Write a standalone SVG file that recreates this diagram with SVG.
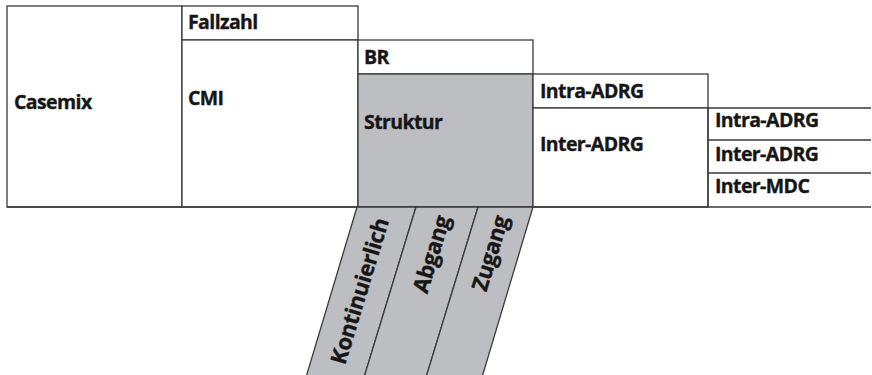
<svg xmlns="http://www.w3.org/2000/svg" width="872" height="375" viewBox="0 0 872 375">
  <style>
    .box { fill: #ffffff; stroke: #3a3a3a; stroke-width: 1.3; }
    .grey { fill: #bdbec1; stroke: #3a3a3a; stroke-width: 1.3; }
    .edge { fill: none; stroke: #3a3a3a; stroke-width: 1.3; }
    .lbl, .vlbl { font-family: "Open Sans", "Noto Sans", "Liberation Sans", sans-serif; font-weight: 700; fill: #161616; stroke: #161616; stroke-width: 0.35px; }
    .lbl { font-size: 19.5px; letter-spacing: -0.6px; }
    .vlbl { font-size: 22px; letter-spacing: -0.4px; }
  </style>
  <rect width="872" height="375" fill="#ffffff"/>

  <!-- level 1 -->
  <g id="casemix">
    <rect class="box" x="7" y="6" width="175" height="201"/>
    <text class="lbl" x="14" y="109">Casemix</text>
  </g>

  <!-- level 2 -->
  <g id="fallzahl">
    <rect class="box" x="182" y="6" width="176" height="34"/>
    <text class="lbl" x="188" y="29">Fallzahl</text>
  </g>
  <g id="cmi">
    <rect class="box" x="182" y="40" width="176" height="167"/>
    <text class="lbl" x="188" y="105">CMI</text>
  </g>

  <!-- level 3 -->
  <g id="br">
    <rect class="box" x="358" y="40" width="175" height="34"/>
    <text class="lbl" x="364" y="64">BR</text>
  </g>
  <g id="struktur">
    <rect class="grey" x="358" y="74" width="175" height="133"/>
    <text class="lbl" x="364" y="129">Struktur</text>
  </g>

  <!-- level 4 -->
  <g id="intra-adrg-1">
    <rect class="box" x="533" y="74" width="175" height="34"/>
    <text class="lbl" x="540" y="98">Intra-ADRG</text>
  </g>
  <g id="inter-adrg-1">
    <rect class="box" x="533" y="108" width="175" height="99"/>
    <text class="lbl" x="540" y="151">Inter-ADRG</text>
  </g>

  <!-- level 5: rows open to the right edge -->
  <g id="intra-adrg-2">
    <path class="edge" d="M871,108 H708 V140 H871"/>
    <text class="lbl" x="715" y="127">Intra-ADRG</text>
  </g>
  <g id="inter-adrg-2">
    <path class="edge" d="M708,140 V173 H871"/>
    <text class="lbl" x="715" y="161">Inter-ADRG</text>
  </g>
  <g id="inter-mdc">
    <path class="edge" d="M708,173 V207"/>
    <text class="lbl" x="715" y="193">Inter-MDC</text>
  </g>

  <!-- connectors: baseline under all levels -->
  <g id="connectors">
    <path class="edge" d="M7,207 H871"/>
  </g>

  <!-- slanted breakdown of Struktur -->
  <g id="kontinuierlich">
    <polygon class="grey" points="357,207 416,207 362,384 304,384"/>
    <text class="vlbl" x="389" y="221" text-anchor="end" transform="rotate(-73.1 389 221)">Kontinuierlich</text>
  </g>
  <g id="abgang">
    <polygon class="grey" points="416,207 478,207 424,384 362,384"/>
    <text class="vlbl" x="450.3" y="218.5" text-anchor="end" transform="rotate(-73.1 450.3 218.5)">Abgang</text>
  </g>
  <g id="zugang">
    <polygon class="grey" points="478,207 533,207 480,384 424,384"/>
    <text class="vlbl" x="508.8" y="218.5" text-anchor="end" transform="rotate(-73.1 508.8 218.5)">Zugang</text>
  </g>
</svg>
